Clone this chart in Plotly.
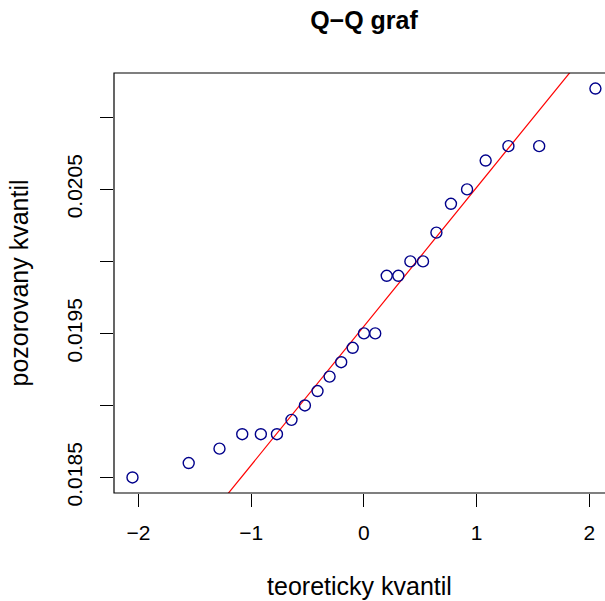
import numpy as np
import plotly.graph_objects as go

# theoretical normal quantiles (n = 25) and sorted sample values
teoreticky = [-2.054, -1.555, -1.282, -1.080, -0.915, -0.772, -0.643, -0.524,
              -0.412, -0.305, -0.202, -0.100, 0.000, 0.100, 0.202, 0.305,
              0.412, 0.524, 0.643, 0.772, 0.915, 1.080, 1.282, 1.555, 2.054]
pozorovany = [0.0185, 0.0186, 0.0187, 0.0188, 0.0188, 0.0188, 0.0189, 0.0190,
              0.0191, 0.0192, 0.0193, 0.0194, 0.0195, 0.0195, 0.0199, 0.0199,
              0.0200, 0.0200, 0.0202, 0.0204, 0.0205, 0.0207, 0.0208, 0.0208,
              0.0212]

y_ticks = [0.0185, 0.0190, 0.0195, 0.0200, 0.0205, 0.0210]
y_ticktext = ["0.0185", "", "0.0195", "", "0.0205", ""]
x_ticks = [-2, -1, 0, 1, 2]
x_ticktext = ["\u22122", "\u22121", "0", "1", "2"]

# qqline: line through the first and third quartiles
q1, q3 = np.percentile(pozorovany, [25, 75])
z = 0.6744898
slope = (q3 - q1) / (2 * z)
intercept = q1 + z * slope
xr = [-2.218, 2.139]
yr = [0.018392, 0.021308]

font = "Liberation Sans, Arial, Helvetica, sans-serif"

fig = go.Figure()
fig.add_scatter(
    x=xr,
    y=[intercept + slope * v for v in xr],
    mode="lines",
    line=dict(color="#FF0000", width=1.2),
    showlegend=False,
)
fig.add_scatter(
    x=teoreticky,
    y=pozorovany,
    mode="markers",
    marker=dict(symbol="circle-open", size=11, color="#00008B",
                line=dict(width=1.4, color="#00008B")),
    cliponaxis=False,
    showlegend=False,
)

# R-style box round the plot region (right side runs off the page)
fig.add_shape(type="rect", xref="paper", yref="paper", x0=0, x1=1.05, y0=0, y1=1,
              line=dict(color="black", width=1.2))

fig.update_layout(
    width=605,
    height=601,
    margin=dict(l=114, r=0, t=73, b=108),
    paper_bgcolor="white",
    plot_bgcolor="white",
    font=dict(family=font, size=21, color="black"),
    title=dict(text="<b>Q\u2212Q graf</b>", x=0.5 * (114 + 614) / 605, xanchor="center",
               y=0.967, yanchor="middle", font=dict(size=25)),
)
fig.update_xaxes(
    range=xr, tickvals=x_ticks, ticktext=x_ticktext,
    ticks="outside", ticklen=13, tickwidth=1.2, tickcolor="black",
    showgrid=False, zeroline=False, showline=False,
    ticklabelstandoff=8,
    title=dict(text="teoreticky kvantil", standoff=34),
)
fig.update_yaxes(
    range=yr, tickvals=y_ticks, ticktext=y_ticktext, tickangle=-90,
    ticks="outside", ticklen=13, tickwidth=1.2, tickcolor="black",
    showgrid=False, zeroline=False, showline=False,
    ticklabelstandoff=10,
    title=dict(text="pozorovany kvantil", standoff=26),
)

fig.write_html("out.html", config={"displayModeBar": False},
               post_script="document.body.style.margin='0';")
